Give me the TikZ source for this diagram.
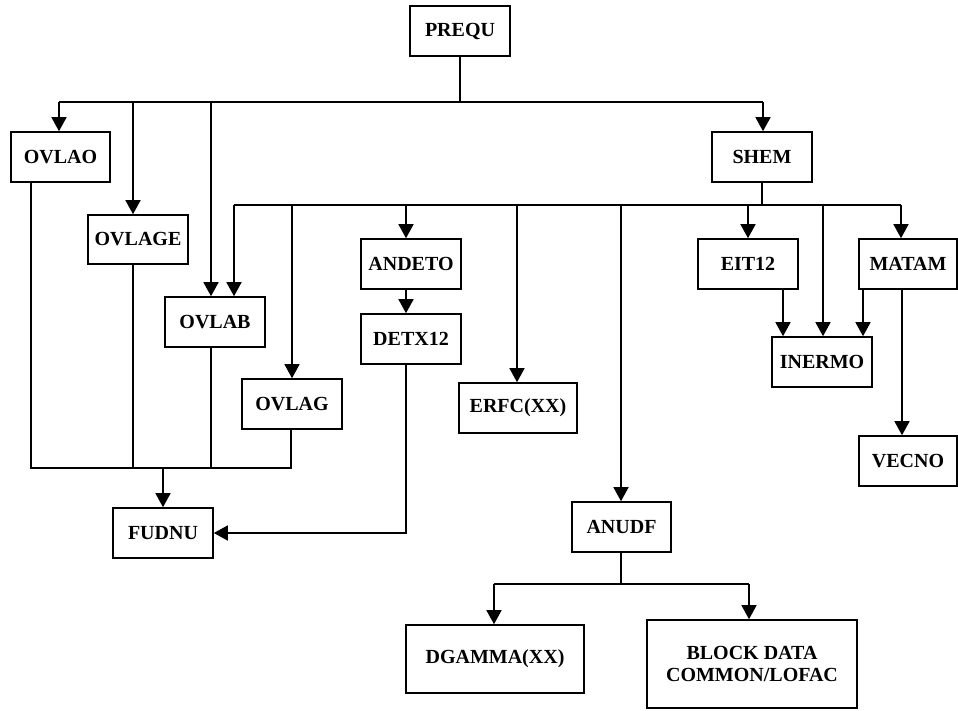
\documentclass[tikz,border=0pt]{standalone}
\usepackage{fontspec}
\setmainfont{Liberation Serif}
\usetikzlibrary{arrows.meta}
\begin{document}
\begin{tikzpicture}[x=1pt,y=-1pt,
  box/.style={draw, line width=1.6pt, inner sep=0pt, align=center,
    font=\bfseries\fontsize{20}{22}\selectfont},
  wire/.style={line width=1.5pt},
  arr/.style={wire, -{Triangle[width=15pt,length=14pt]}}]
\useasboundingbox (0,0) rectangle (958,710);

% routines
\node[box, minimum width=100, minimum height=50] (PREQU)  at (460,31)  {PREQU};
\node[box, minimum width=99,  minimum height=50] (OVLAO)  at (60.5,157) {OVLAO};
\node[box, minimum width=100, minimum height=49] (OVLAGE) at (138,239.5) {OVLAGE};
\node[box, minimum width=100, minimum height=50] (OVLAB)  at (215,322) {OVLAB};
\node[box, minimum width=100, minimum height=50] (OVLAG)  at (292,404) {OVLAG};
\node[box, minimum width=100, minimum height=50] (SHEM)   at (762,157) {SHEM};
\node[box, minimum width=100, minimum height=50] (ANDETO) at (411,264) {ANDETO};
\node[box, minimum width=100, minimum height=50] (DETX12) at (411,339) {DETX12};
\node[box, minimum width=118, minimum height=50] (ERFC)   at (518,408) {ERFC(XX)};
\node[box, minimum width=100, minimum height=50] (EIT12)  at (748,264) {EIT12};
\node[box, minimum width=98,  minimum height=50] (MATAM)  at (908,264) {MATAM};
\node[box, minimum width=100, minimum height=50] (INERMO) at (822,362) {INERMO};
\node[box, minimum width=98,  minimum height=50] (VECNO)  at (908,461) {VECNO};
\node[box, minimum width=100, minimum height=50] (FUDNU)  at (163,533) {FUDNU};
\node[box, minimum width=99,  minimum height=50] (ANUDF)  at (621.5,527) {ANUDF};
\node[box, minimum width=178, minimum height=68] (DGAMMA) at (495,659) {DGAMMA(XX)};
\node[box, minimum width=210, minimum height=88] (BLOCK)  at (752,664) {BLOCK DATA\\COMMON/LOFAC};

% PREQU calls
\coordinate (pa) at (59,102);
\coordinate (pb) at (133,102);
\coordinate (pc) at (211,102);
\coordinate (pd) at (763,102);
\draw[wire] (PREQU.south) -- (PREQU.south |- pa);
\draw[wire] (pa) -- (pd);
\draw[arr] (pa) -- (pa |- OVLAO.north);
\draw[arr] (pb) -- (pb |- OVLAGE.north);
\draw[arr] (pc) -- (pc |- OVLAB.north);
\draw[arr] (pd) -- (pd |- SHEM.north);

% SHEM calls
\coordinate (sa) at (234,205);
\coordinate (sb) at (292,205);
\coordinate (sc) at (406,205);
\coordinate (sd) at (517,205);
\coordinate (se) at (621,205);
\coordinate (sf) at (748,205);
\coordinate (sg) at (823,205);
\coordinate (sh) at (901,205);
\draw[wire] (SHEM.south) -- (SHEM.south |- sa);
\draw[wire] (sa) -- (sh);
\draw[arr] (sa) -- (sa |- OVLAB.north);
\draw[arr] (sb) -- (sb |- OVLAG.north);
\draw[arr] (sc) -- (sc |- ANDETO.north);
\draw[arr] (sd) -- (sd |- ERFC.north);
\draw[arr] (se) -- (se |- ANUDF.north);
\draw[arr] (sf) -- (sf |- EIT12.north);
\draw[arr] (sg) -- (sg |- INERMO.north);
\draw[arr] (sh) -- (sh |- MATAM.north);

% ANDETO -> DETX12 -> FUDNU
\draw[arr] (ANDETO.south -| sc) -- (DETX12.north -| sc);
\draw[arr] (DETX12.south -| sc) |- (FUDNU.east);

% EIT12 / MATAM -> INERMO, MATAM -> VECNO
\coordinate (ia) at (783,300);
\coordinate (ib) at (863,300);
\coordinate (va) at (902,300);
\draw[arr] (EIT12.south -| ia) -- (INERMO.north -| ia);
\draw[arr] (MATAM.south -| ib) -- (INERMO.north -| ib);
\draw[arr] (MATAM.south -| va) -- (VECNO.north -| va);

% overlays -> FUDNU
\coordinate (c1) at (31,468);
\coordinate (c2) at (133,468);
\coordinate (c3) at (211,468);
\coordinate (c4) at (291,468);
\draw[wire] (OVLAO.south -| c1) -- (c1) -- (c4) -- (OVLAG.south -| c4);
\draw[wire] (OVLAGE.south -| c2) -- (c2);
\draw[wire] (OVLAB.south -| c3) -- (c3);
\draw[arr] (FUDNU.north |- c1) -- (FUDNU.north);

% ANUDF calls
\coordinate (u)  at (621,584);
\coordinate (ua) at (494,584);
\coordinate (ub) at (749,584);
\draw[wire] (ANUDF.south -| u) -- (u);
\draw[wire] (ua) -- (ub);
\draw[arr] (ua) -- (ua |- DGAMMA.north);
\draw[arr] (ub) -- (ub |- BLOCK.north);
\end{tikzpicture}
\end{document}
